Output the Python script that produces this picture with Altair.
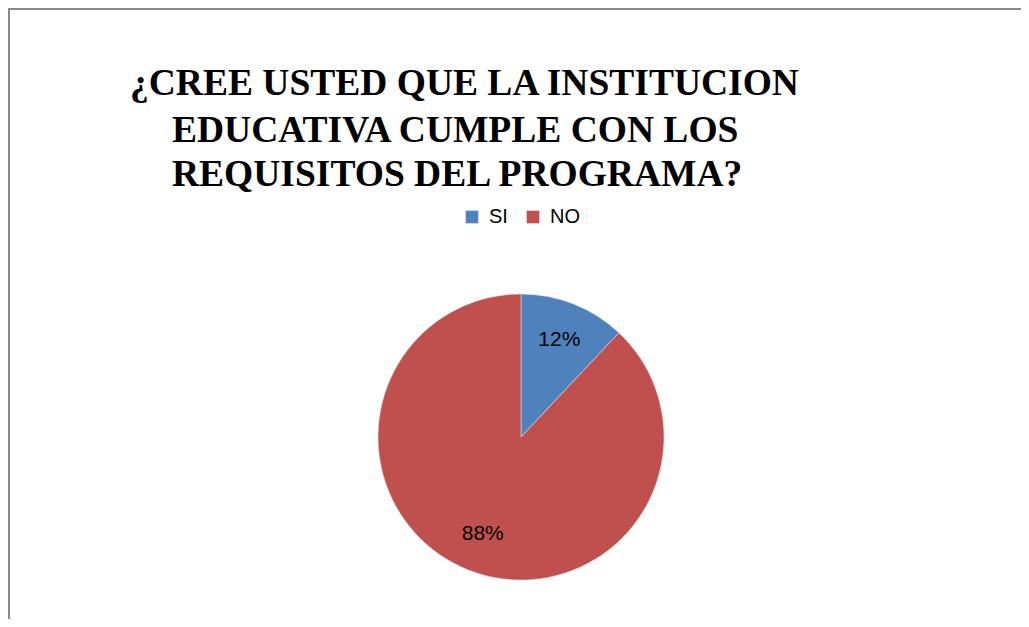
import altair as alt
import pandas as pd

categories = ["SI", "NO"]
values = [12, 88]
labels = ["12%", "88%"]
colors = ["#4F81BD", "#C0504D"]
title_lines = ["¿CREE USTED QUE LA INSTITUCION", "EDUCATIVA CUMPLE CON LOS", "REQUISITOS DEL PROGRAMA?"]

df = pd.DataFrame({"cat": categories, "val": values, "label": labels, "ord": list(range(len(categories)))})

CX, CY, R = 513, 429, 143
W, H = 1013, 611

base = alt.Chart(df).encode(
    theta=alt.Theta("val:Q", stack=True),
    order=alt.Order("ord:Q"),
)

pie = base.mark_arc(outerRadius=R, stroke="#e8e8e8", strokeWidth=0.5).encode(
    x=alt.value(CX), y=alt.value(CY),
    color=alt.Color("cat:N", scale=alt.Scale(domain=categories, range=colors),
                    sort=categories,
                    legend=alt.Legend(title=None, orient="none", direction="horizontal",
                                      legendX=454, legendY=199, symbolType="square",
                                      symbolSize=160, symbolStrokeWidth=0,
                                      labelFont="Liberation Sans", labelFontSize=20,
                                      labelColor="#000000", columnPadding=15,
                                      symbolOffset=0, labelOffset=7)),
)

text = base.mark_text(radius=104, font="Liberation Sans", fontSize=21, color="#000000").encode(
    x=alt.value(CX), y=alt.value(CY), text="label:N",
)

tdf = pd.DataFrame({"t": title_lines, "i": [0, 1, 2]})

def title_line(i, x, y):
    return alt.Chart(tdf).transform_filter(alt.datum.i == i).mark_text(
        align="left", baseline="alphabetic", font="Liberation Serif", fontWeight="bold",
        fontSize=37.5, color="#000000"
    ).encode(x=alt.value(x), y=alt.value(y), text="t:N")

t1 = title_line(0, 122, 87)
t2 = title_line(1, 164, 134)
t3 = title_line(2, 164, 178)

border_top = alt.Chart(df).mark_rule(color="#8a8a8a", strokeWidth=2).encode(
    x=alt.value(0), x2=alt.value(W), y=alt.value(1))
border_left = alt.Chart(df).mark_rule(color="#8a8a8a", strokeWidth=2).encode(
    x=alt.value(1), y=alt.value(0), y2=alt.value(H))

chart = alt.layer(pie, text, t1, t2, t3, border_top, border_left).properties(
    width=W, height=H, padding=0,
    autosize=alt.AutoSizeParams(type="none"),
).configure_view(strokeWidth=0).configure(background="white")

chart.save("out.html", embed_options={"renderer": "svg", "actions": False})
